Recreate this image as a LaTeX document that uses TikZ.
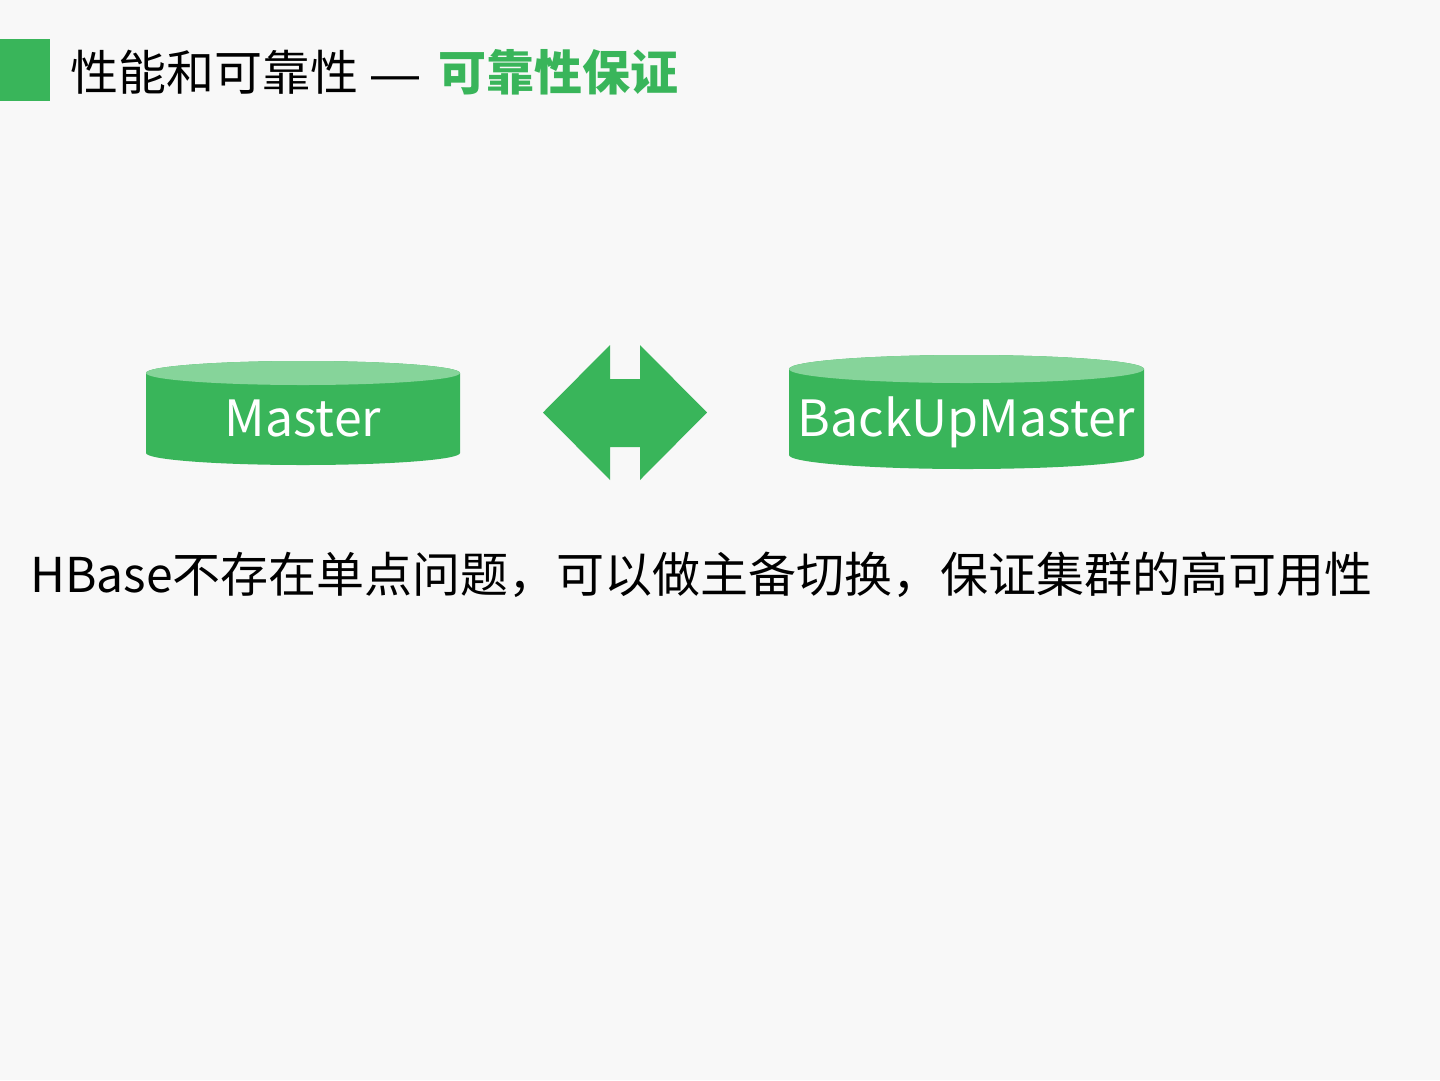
\documentclass[tikz,border=0pt]{standalone}
\usepackage{fontspec}
\setmainfont{Noto Sans CJK SC}
\newfontfamily\cjk{Noto Sans CJK SC}
\newfontfamily\dashfont{Liberation Sans}
\definecolor{bg}{RGB}{248,248,248}
\definecolor{grn}{RGB}{57,181,90}
\definecolor{lgrn}{RGB}{134,212,154}
\begin{document}
\begin{tikzpicture}[x=1pt,y=1pt,
  lbl/.style={text=white,font=\cjk\fontsize{50}{58}\selectfont,anchor=base,inner sep=0},
  txt/.style={font=\cjk\fontsize{48}{56}\selectfont,anchor=base west,inner sep=0}]
\useasboundingbox (0,0) rectangle (1440,-1080);
\fill[bg] (0,0) rectangle (1440,-1080);
% header
\fill[grn] (0,-39) rectangle (50,-101);
\node[anchor=base west,inner sep=0,font=\cjk\fontsize{48}{56}\selectfont] (title) at (70,-90) {性能和可靠性{\dashfont\ —\ }\hspace{6pt}\textcolor{grn}{\bfseries 可靠性保证}};
% Master cylinder
\fill[grn] (146,-373) -- (146,-453) arc[start angle=180,end angle=360,x radius=157,y radius=12] -- (460,-373) arc[start angle=0,end angle=180,x radius=157,y radius=12] -- cycle;
\fill[lgrn] (303,-373) ellipse[x radius=157,y radius=12];
\node[lbl] (master) at (303,-436) {Master};
% BackUpMaster cylinder
\fill[grn] (789,-369) -- (789,-455) arc[start angle=180,end angle=360,x radius=177.5,y radius=14] -- (1144,-369) arc[start angle=0,end angle=180,x radius=177.5,y radius=14] -- cycle;
\fill[lgrn] (966.5,-369) ellipse[x radius=177.5,y radius=14];
\node[lbl] (backup) at (966.5,-436) {BackUpMaster};
% double arrow
\fill[grn] (543,-412.5) -- (610,-345) -- (610,-379) -- (640,-379) -- (640,-345) -- (707,-412.5) -- (640,-480) -- (640,-447) -- (610,-447) -- (610,-480) -- cycle;
% body text
\node[txt] (desc) at (30,-592) {HBase不存在单点问题，可以做主备切换，保证集群的高可用性};
\end{tikzpicture}
\end{document}
